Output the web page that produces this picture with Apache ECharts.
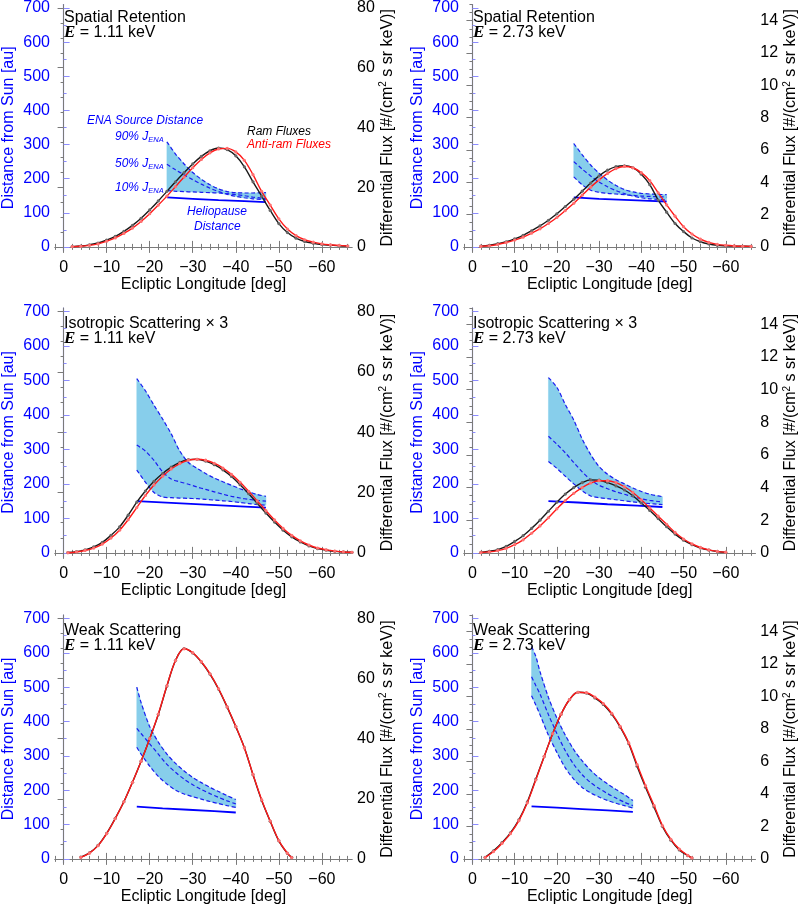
<!DOCTYPE html>
<html><head><meta charset="utf-8">
<script src="https://cdn.jsdelivr.net/npm/echarts@6/dist/echarts.min.js"></script>
<style>html,body{margin:0;padding:0;background:#fff}#c{width:800px;height:906px}</style>
</head><body><div id="c"></div>
<script>
// ---------------- DATA ----------------
const xTickValues = [0, -10, -20, -30, -40, -50, -60];
const distTickValues = [0, 100, 200, 300, 400, 500, 600, 700];
const fluxTicksLow = [0, 20, 40, 60, 80];
const fluxTicksHigh = [0, 2, 4, 6, 8, 10, 12, 14];

const titles = ['Spatial Retention', 'Spatial Retention', 'Isotropic Scattering \u00d7 3', 'Isotropic Scattering \u00d7 3', 'Weak Scattering', 'Weak Scattering'];
const energies = ['1.11', '2.73', '1.11', '2.73', '1.11', '2.73'];

// Panel 1: Spatial Retention, 1.11 keV
const lon1 = [-2,-4,-6,-8,-10,-12,-14,-16,-18,-20,-22,-24,-26,-28,-30,-32,-34,-36,-38,-40,-42,-44,-46,-48,-50,-52,-54,-56,-58,-60,-62,-64,-66];
const ram1 = [0.1,0.3,0.7,1.3,2.3,3.5,5.2,7.2,9.6,12.4,15.4,18.6,21.8,24.9,27.8,30.3,32.2,33.1,32.6,30.5,26.8,21.8,17.0,12.2,7.8,4.8,2.9,1.8,1.2,0.8,0.6,0.4,0.3];
const anti1 = [0.1,0.2,0.5,1.0,1.9,3.0,4.5,6.3,8.5,11.1,14.0,17.0,20.2,23.4,26.5,29.3,31.5,32.8,33.0,31.8,29.0,24.2,18.6,14.0,9.4,6.0,3.8,2.4,1.6,1.0,0.7,0.5,0.3];
const bandLon1 = [-24,-26,-28,-30,-32,-34,-36,-38,-40,-42,-44,-46,-47];
const ena90_1 = [308,272,243,218,198,182,170,162,159,158,158,159,159];
const ena50_1 = [242,226,211,197,184,172,162,154,148,144,141,139,138];
const ena10_1 = [165,163,162,161,160,159,158,156,153,150,146,143,142];
const hpLon1 = [-24,-30,-36,-42,-47];
const hp1 = [145,141,137,134,131];

// Panel 2: Spatial Retention, 2.73 keV
const lon2 = [-2,-4,-6,-8,-10,-12,-14,-16,-18,-20,-22,-24,-26,-28,-30,-32,-34,-36,-38,-40,-42,-44,-46,-48,-50,-52,-54,-56,-58,-60,-62,-64,-66];
const ram2 = [0.05,0.1,0.2,0.32,0.5,0.72,1.0,1.3,1.65,2.05,2.5,2.95,3.45,3.95,4.4,4.75,4.97,5.02,4.9,4.5,3.85,2.9,2.15,1.45,0.95,0.55,0.32,0.18,0.1,0.07,0.05,0.04,0.03];
const anti2 = [0.03,0.07,0.15,0.27,0.42,0.6,0.85,1.12,1.45,1.82,2.25,2.7,3.2,3.7,4.15,4.55,4.85,4.98,4.9,4.6,4.1,3.35,2.6,1.9,1.25,0.8,0.48,0.28,0.16,0.1,0.06,0.04,0.03];
const bandLon2 = [-24,-26,-28,-30,-32,-34,-36,-38,-40,-42,-44,-46];
const ena90_2 = [303,270,240,216,196,180,168,161,157,155,154,153];
const ena50_2 = [250,228,208,190,176,165,156,149,144,141,139,138];
const ena10_2 = [205,182,166,160,157,155,153,151,149,148,147,146];
const hpLon2 = [-24,-30,-36,-42,-46];
const hp2 = [145,141,138,135,133];

// Panel 3: Isotropic Scattering x3, 1.11 keV
const lon3 = [-1,-3,-5,-7,-9,-11,-13,-15,-17,-19,-21,-23,-25,-27,-29,-31,-33,-35,-37,-39,-41,-43,-45,-47,-49,-51,-53,-55,-57,-59,-61,-63,-65,-67];
const ram3 = [0.1,0.4,1.0,2.0,3.5,5.8,8.6,12.5,16.8,20.5,23.7,26.3,28.4,30.0,30.9,31.0,30.4,29.2,27.5,25.3,22.6,19.6,16.4,13.2,10.2,7.5,5.3,3.6,2.3,1.4,0.9,0.5,0.3,0.2];
const anti3 = [0.05,0.3,0.8,1.6,2.9,4.9,7.5,11.0,15.0,19.0,22.5,25.4,27.8,29.6,30.7,31.0,30.7,29.7,28.1,26.0,23.4,20.4,17.2,14.0,10.9,8.1,5.8,4.0,2.6,1.6,1.0,0.6,0.3,0.2];
const bandLon3 = [-17,-19,-21,-23,-25,-27,-29,-31,-33,-35,-37,-39,-41,-43,-45,-47];
const ena90_3 = [505,470,428,388,345,295,262,245,230,217,206,196,186,177,169,164];
const ena50_3 = [313,295,268,235,214,206,199,191,184,177,170,164,159,155,152,150];
const ena10_3 = [240,205,175,162,160,159,158,157,155,153,151,149,146,143,140,138];
const hpLon3 = [-17,-25,-33,-41,-47];
const hp3 = [150,145,140,135,131];

// Panel 4: Isotropic Scattering x3, 2.73 keV
const lon4 = [-2,-4,-6,-8,-10,-12,-14,-16,-18,-20,-22,-24,-26,-28,-30,-32,-34,-36,-38,-40,-42,-44,-46,-48,-50,-52,-54,-56,-58,-60];
const ram4 = [0.03,0.1,0.2,0.4,0.7,1.05,1.5,2.0,2.55,3.1,3.6,4.0,4.3,4.47,4.45,4.3,4.1,3.85,3.5,3.05,2.6,2.1,1.6,1.15,0.78,0.5,0.3,0.17,0.08,0.03];
const anti4 = [0.02,0.06,0.14,0.28,0.5,0.8,1.2,1.65,2.15,2.7,3.2,3.65,4.0,4.28,4.42,4.42,4.3,4.05,3.7,3.25,2.75,2.25,1.75,1.25,0.85,0.55,0.33,0.18,0.09,0.04];
const bandLon4 = [-18,-20,-22,-24,-26,-28,-30,-32,-34,-36,-38,-40,-42,-44,-45];
const ena90_4 = [508,480,430,385,330,285,250,228,212,200,188,178,170,165,163];
const ena50_4 = [338,315,290,262,235,212,196,186,177,170,163,157,152,149,148];
const ena10_4 = [265,245,222,200,180,165,160,157,154,151,148,145,143,141,140];
const hpLon4 = [-18,-25,-32,-39,-45];
const hp4 = [150,146,141,137,133];

// Panel 5: Weak Scattering, 1.11 keV
const lon5 = [-4,-6,-8,-10,-12,-14,-16,-18,-20,-22,-24,-26,-28,-30,-32,-34,-36,-38,-40,-42,-44,-46,-48,-50,-52,-53];
const ram5 = [0.6,2.0,4.5,8.5,13.5,19.0,25.5,32.5,40.0,48.0,57.5,66.0,70.0,68.5,65.5,61.5,56.5,50.5,44.0,37.0,28.0,19.5,12.5,6.0,1.8,0.5];
const anti5 = [0.5,1.9,4.4,8.4,13.4,19.0,25.5,32.5,40.0,48.2,57.6,66.0,69.9,68.6,65.6,61.6,56.6,50.6,44.1,36.9,28.1,19.7,12.6,6.1,1.9,0.4];
const bandLon5 = [-17,-18,-20,-22,-24,-26,-28,-30,-32,-34,-36,-38,-40];
const ena90_5 = [500,455,385,340,305,278,256,237,222,208,196,184,173];
const ena50_5 = [380,365,335,305,275,252,232,216,202,190,179,169,160];
const ena10_5 = [325,305,270,240,218,200,189,181,174,167,161,155,150];
const hpLon5 = [-17,-23,-29,-35,-40];
const hp5 = [152,147,143,139,135];

// Panel 6: Weak Scattering, 2.73 keV
const lon6 = [-3,-5,-7,-9,-11,-13,-15,-17,-19,-21,-23,-25,-27,-29,-31,-33,-35,-37,-39,-41,-43,-45,-47,-49,-51,-52];
const ram6 = [0.1,0.5,1.0,1.6,2.4,3.5,4.9,6.3,7.7,8.9,9.8,10.25,10.2,9.9,9.5,8.9,8.1,7.1,5.7,4.4,3.2,2.0,1.15,0.55,0.2,0.05];
const anti6 = [0.08,0.45,0.95,1.55,2.35,3.45,4.85,6.3,7.7,8.9,9.8,10.25,10.22,9.95,9.55,8.95,8.15,7.15,5.8,4.5,3.3,2.05,1.2,0.6,0.22,0.06];
const bandLon6 = [-14,-15,-16,-18,-20,-22,-24,-26,-28,-30,-32,-34,-36,-38];
const ena90_6 = [618,590,545,470,410,360,318,285,258,236,218,202,187,170];
const ena50_6 = [530,505,480,420,365,315,275,245,222,205,190,177,165,155];
const ena10_6 = [475,448,420,360,310,265,232,208,192,180,170,162,155,148];
const hpLon6 = [-14,-20,-26,-32,-38];
const hp6 = [153,149,145,141,137];

// ---------------- LAYOUT / STYLE ----------------
const FONT = 'Liberation Sans, Arial, Helvetica, sans-serif';
const BLUE = '#0000ff';
const AXIS_GRAY = '#7a7a7a';
const BAND_FILL = '#87ceeb';
const GRID_LEFT = [55, 464];
const GRID_WIDTH = [297, 296];
const GRID_TOP = [2, 308, 615];
const GRID_HEIGHT = 249;
const X_MIN = -67, X_MAX = 2;
const D_MIN = -12, D_MAX = 710;

const panels = [
  {lon: lon1, ram: ram1, anti: anti1, bandLon: bandLon1, e90: ena90_1, e50: ena50_1, e10: ena10_1, hpLon: hpLon1, hp: hp1, hi: false},
  {lon: lon2, ram: ram2, anti: anti2, bandLon: bandLon2, e90: ena90_2, e50: ena50_2, e10: ena10_2, hpLon: hpLon2, hp: hp2, hi: true},
  {lon: lon3, ram: ram3, anti: anti3, bandLon: bandLon3, e90: ena90_3, e50: ena50_3, e10: ena10_3, hpLon: hpLon3, hp: hp3, hi: false},
  {lon: lon4, ram: ram4, anti: anti4, bandLon: bandLon4, e90: ena90_4, e50: ena50_4, e10: ena10_4, hpLon: hpLon4, hp: hp4, hi: true},
  {lon: lon5, ram: ram5, anti: anti5, bandLon: bandLon5, e90: ena90_5, e50: ena50_5, e10: ena10_5, hpLon: hpLon5, hp: hp5, hi: false},
  {lon: lon6, ram: ram6, anti: anti6, bandLon: bandLon6, e90: ena90_6, e50: ena50_6, e10: ena10_6, hpLon: hpLon6, hp: hp6, hi: true}
];

function range(a, b, step, skip) { const r = []; for (let v = a; step > 0 ? v <= b + 1e-9 : v >= b - 1e-9; v += step) { const q = Math.round(v * 1000) / 1000; if (!skip || Math.abs(q / skip - Math.round(q / skip)) > 1e-6) r.push(q); } return r; }
const xMinor = range(2, -66, -2, 10);
const distMinor = range(0, 700, 50, 100);
const fluxMinorLow = range(0, 80, 5, 20);
const fluxMinorHigh = range(0, 15, 0.5, 2);

const minus = v => (v < 0 ? '\u2212' + Math.abs(v) : String(v));

const grids = [], xAxes = [], yAxes = [], series = [], graphics = [];

panels.forEach((p, g) => {
  const col = g % 2, row = Math.floor(g / 2);
  const left = GRID_LEFT[col], top = GRID_TOP[row], width = GRID_WIDTH[col];
  grids.push({left: left, top: top, width: width, height: GRID_HEIGHT, containLabel: false});
  const fMin = p.hi ? -0.2535 : -1.371;
  const fMax = p.hi ? 15.0 : 81.14;
  const fTicks = p.hi ? fluxTicksHigh : fluxTicksLow;
  const fMinor = p.hi ? fluxMinorHigh : fluxMinorLow;
  const baseX = {type: 'value', gridIndex: g, min: X_MIN, max: X_MAX, inverse: true, splitLine: {show: false}};
  xAxes.push(Object.assign({}, baseX, {
    position: 'bottom',
    axisLine: {show: true, lineStyle: {color: AXIS_GRAY, width: 1}},
    axisTick: {show: true, inside: true, length: 6, customValues: xTickValues, lineStyle: {color: AXIS_GRAY}},
    axisLabel: {show: true, customValues: xTickValues, formatter: minus, color: '#000', fontSize: 16, fontFamily: FONT, margin: 9},
    name: 'Ecliptic Longitude [deg]', nameLocation: 'middle', nameGap: 26,
    nameTextStyle: {color: '#000', fontSize: 16, fontFamily: FONT}
  }));
  xAxes.push(Object.assign({}, baseX, {
    position: 'bottom', axisLine: {show: false},
    axisTick: {show: true, inside: true, length: 3, customValues: xMinor, lineStyle: {color: AXIS_GRAY}},
    axisLabel: {show: false}
  }));
  xAxes.push(Object.assign({}, baseX, {
    position: 'top',
    axisLine: {show: true, lineStyle: {color: AXIS_GRAY, width: 1}},
    axisTick: {show: true, inside: true, length: 6, customValues: xTickValues, lineStyle: {color: AXIS_GRAY}},
    axisLabel: {show: false}
  }));
  xAxes.push(Object.assign({}, baseX, {
    position: 'top', axisLine: {show: false},
    axisTick: {show: true, inside: true, length: 3, customValues: xMinor, lineStyle: {color: AXIS_GRAY}},
    axisLabel: {show: false}
  }));
  const baseYL = {type: 'value', gridIndex: g, min: D_MIN, max: D_MAX, position: 'left', splitLine: {show: false}};
  yAxes.push(Object.assign({}, baseYL, {
    axisLine: {show: true, lineStyle: {color: '#8c8cff', width: 1.2}},
    axisTick: {show: true, inside: true, length: 6, customValues: distTickValues, lineStyle: {color: '#8c8cff'}},
    axisLabel: {show: true, customValues: distTickValues, color: BLUE, fontSize: 16, fontFamily: FONT, margin: 5},
    name: 'Distance from Sun [au]', nameLocation: 'middle', nameGap: 38, nameRotate: 90,
    nameTextStyle: {color: BLUE, fontSize: 16, fontFamily: FONT}
  }));
  yAxes.push(Object.assign({}, baseYL, {
    axisLine: {show: false},
    axisTick: {show: true, inside: true, length: 3, customValues: distMinor, lineStyle: {color: '#8c8cff'}},
    axisLabel: {show: false}
  }));
  const baseYR = {type: 'value', gridIndex: g, min: fMin, max: fMax, position: 'right', splitLine: {show: false}};
  yAxes.push(Object.assign({}, baseYR, {
    axisLine: {show: true, lineStyle: {color: AXIS_GRAY, width: 1}},
    axisTick: {show: true, inside: true, length: 6, customValues: fTicks, lineStyle: {color: AXIS_GRAY}},
    axisLabel: {show: true, customValues: fTicks, color: '#000', fontSize: 16, fontFamily: FONT, margin: 5},
    name: 'Differential Flux [#/(cm{sup|2} s sr keV)]', nameLocation: 'middle', nameGap: col === 0 ? 26 : 22, nameRotate: 90,
    nameTextStyle: {color: '#000', fontSize: 16, fontFamily: FONT, rich: {sup: {fontSize: 10, fontFamily: FONT, color: '#000', verticalAlign: 'top', padding: [0, 0, 8, 0]}}}
  }));
  yAxes.push(Object.assign({}, baseYR, {
    axisLine: {show: false},
    axisTick: {show: true, inside: true, length: 3, customValues: fMinor, lineStyle: {color: AXIS_GRAY}},
    axisLabel: {show: false}
  }));
  const xi = 4 * g, yl = 4 * g, yr = 4 * g + 2;
  const pairs = (xs, ys) => xs.map((x, i) => [x, ys[i]]);
  // shaded band spanning the 10%..90% source distances
  series.push({
    type: 'custom', coordinateSystem: 'cartesian2d', xAxisIndex: xi, yAxisIndex: yl, silent: true, z: 1,
    data: [[p.bandLon[0], p.e90[0]]],
    renderItem: function (params, api) {
      const pts = [];
      const n = p.bandLon.length;
      for (let i = 0; i < n; i++) pts.push(api.coord([p.bandLon[i], Math.max(p.e90[i], p.e50[i], p.e10[i])]));
      for (let i = n - 1; i >= 0; i--) pts.push(api.coord([p.bandLon[i], Math.min(p.e90[i], p.e50[i], p.e10[i])]));
      return {type: 'polygon', shape: {points: pts, smooth: 0}, style: {fill: BAND_FILL, stroke: BAND_FILL, lineWidth: 0.5}};
    }
  });
  [p.e90, p.e50, p.e10].forEach(arr => {
    series.push({type: 'line', xAxisIndex: xi, yAxisIndex: yl, data: pairs(p.bandLon, arr), symbol: 'none', smooth: 0.3, z: 3,
      lineStyle: {color: '#1c1cf0', width: 1.2, type: [4, 2.5]}});
  });
  series.push({type: 'line', xAxisIndex: xi, yAxisIndex: yl, data: pairs(p.hpLon, p.hp), symbol: 'none', z: 3,
    lineStyle: {color: BLUE, width: 1.8}});
  series.push({type: 'line', xAxisIndex: xi, yAxisIndex: yr, data: pairs(p.lon, p.ram), smooth: 0.35, z: 4,
    symbol: 'circle', symbolSize: 3.2, itemStyle: {color: '#666'}, lineStyle: {color: '#1a1a1a', width: 1.4}});
  series.push({type: 'line', xAxisIndex: xi, yAxisIndex: yr, data: pairs(p.lon, p.anti), smooth: 0.35, z: 5,
    symbol: 'circle', symbolSize: 3.2, itemStyle: {color: '#ff7070'}, lineStyle: {color: '#ff1a1a', width: 1.4}});

  graphics.push({type: 'text', left: left + 9, top: top + 8, z: 10,
    style: {text: titles[g], fontSize: 16, fontFamily: FONT, fill: '#000'}});
  graphics.push({type: 'text', left: left + 9, top: top + 22, z: 10,
    style: {text: '{e|E} = ' + energies[g] + ' keV', fontSize: 16, fontFamily: FONT, fill: '#000',
      rich: {e: {fontFamily: 'Liberation Serif, DejaVu Serif, serif', fontStyle: 'italic', fontWeight: 'bold', fontSize: 17, fill: '#000'}}}});
});

// annotations in the first panel
const annBlue = {fontSize: 12, fontFamily: FONT, fontStyle: 'italic', fill: BLUE};
const subRich = {s: {fontSize: 7.5, fontFamily: FONT, fontStyle: 'italic', fill: BLUE, padding: [6, 0, 0, 0]}};
graphics.push({type: 'text', left: 87, top: 115, style: Object.assign({text: 'ENA Source Distance'}, annBlue)});
graphics.push({type: 'text', left: 115, top: 131, style: Object.assign({text: '90% J{s|ENA}', rich: subRich}, annBlue)});
graphics.push({type: 'text', left: 115, top: 158, style: Object.assign({text: '50% J{s|ENA}', rich: subRich}, annBlue)});
graphics.push({type: 'text', left: 115, top: 182, style: Object.assign({text: '10% J{s|ENA}', rich: subRich}, annBlue)});
graphics.push({type: 'text', left: 187, top: 206, style: Object.assign({text: 'Heliopause'}, annBlue)});
graphics.push({type: 'text', left: 194, top: 221, style: Object.assign({text: 'Distance'}, annBlue)});
graphics.push({type: 'text', left: 247, top: 126, style: {text: 'Ram Fluxes', fontSize: 12, fontFamily: FONT, fontStyle: 'italic', fill: '#000'}});
graphics.push({type: 'text', left: 247, top: 139, style: {text: 'Anti-ram Fluxes', fontSize: 12, fontFamily: FONT, fontStyle: 'italic', fill: '#ff0000'}});

const chart = echarts.init(document.getElementById('c'), null, {renderer: 'canvas'});
chart.setOption({
  animation: false,
  backgroundColor: '#fff',
  grid: grids, xAxis: xAxes, yAxis: yAxes, series: series, graphic: graphics
});
</script></body></html>
